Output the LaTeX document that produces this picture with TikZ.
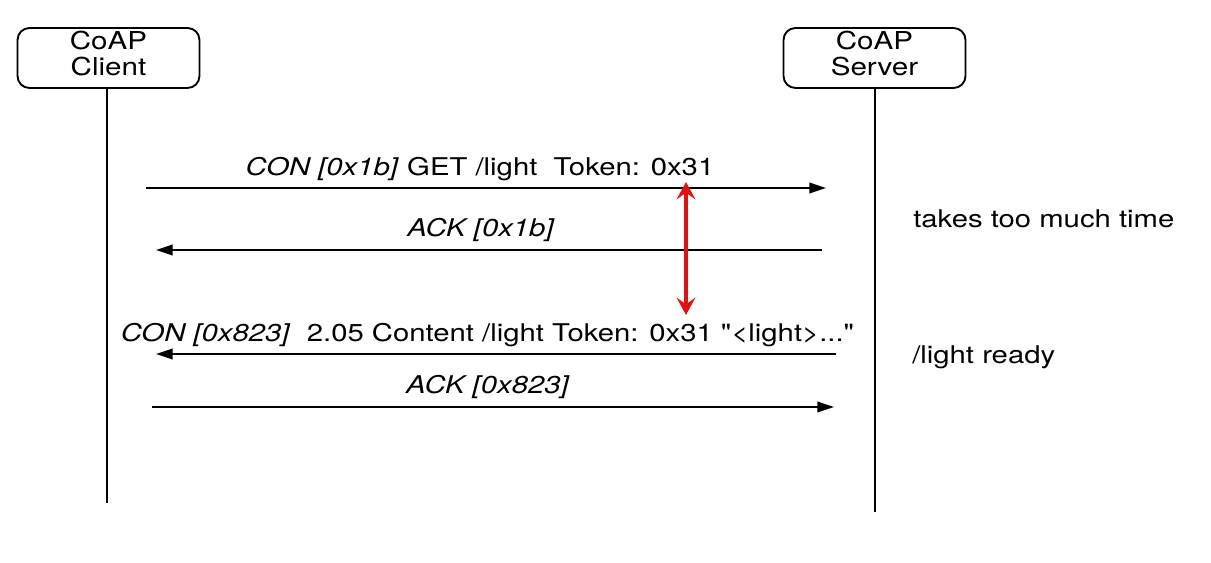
\documentclass[tikz,border=0pt]{standalone}
\usepackage{fontspec}
\setmainfont{TeX Gyre Heros}[FakeStretch=1.2, Ligatures=TeXOff]
\usetikzlibrary{arrows.meta}
\begin{document}
\begin{tikzpicture}[x=0.75pt,y=-0.75pt,
  actor/.style={draw, line width=1.4pt, rounded corners=9pt, minimum width=136.5pt, minimum height=45pt, inner sep=0pt},
  actorlbl/.style={align=center, inner sep=0pt, font=\fontsize{18.5}{19.5}\selectfont},
  life/.style={line width=1.2pt},
  msg/.style={line width=1.2pt, -{Triangle[length=12.5pt,width=8pt]}},
  lbl/.style={font=\fontsize{18.3}{18}\selectfont, inner sep=0pt, anchor=base},
  note/.style={font=\fontsize{18.3}{18}\selectfont, inner sep=0pt, anchor=base west},
  wait/.style={draw={rgb,255:red,230;green,15;blue,15}, line width=3pt, {Stealth[length=13pt,width=14pt,inset=5pt]}-{Stealth[length=13pt,width=14pt,inset=5pt]}}]
\useasboundingbox (0,0) rectangle (1211,563);
\node[actor] (client) at (108.5,58) {};
\node[actor] (server) at (874.5,58) {};
\node[actorlbl] (clientlbl) at (108.5,54) {CoAP\\Client};
\node[actorlbl] (serverlbl) at (874.5,54) {CoAP\\Server};
\coordinate (cend) at (107,503);
\coordinate (send) at (875,512);
\draw[life] (client.south -| cend) -- (cend);
\draw[life] (server.south -| send) -- (send);
% message 1
\coordinate (m1a) at (146,188); \coordinate (m1b) at (826,188);
\draw[msg] (m1a) -- (m1b);
\node[lbl] (l1) at (480,176) {\textit{CON [0x1b]} GET /light\ \ Token: 0x31};
% message 2
\coordinate (m2a) at (822,250); \coordinate (m2b) at (156,250);
\draw[msg] (m2a) -- (m2b);
\node[lbl] (l2) at (481,237) {\textit{ACK [0x1b]}};
% message 3
\coordinate (m3a) at (836,354); \coordinate (m3b) at (156,354);
\draw[msg] (m3a) -- (m3b);
\node[lbl] (l3) at (487.5,341) {\textit{CON [0x823]}\ \ 2.05 Content /light Token: 0x31 "<light>..."};
% message 4
\coordinate (m4a) at (152,407); \coordinate (m4b) at (834,407);
\draw[msg] (m4a) -- (m4b);
\node[lbl] (l4) at (488,393) {\textit{ACK [0x823]}};
% waiting arrow
\coordinate (wa) at (686,182); \coordinate (wb) at (686,315);
\draw[wait] (wa) -- (wb);
\node[note] (n1) at (913,228) {takes too much time};
\node[note] (n2) at (912,363) {/light ready};
\end{tikzpicture}
\end{document}
